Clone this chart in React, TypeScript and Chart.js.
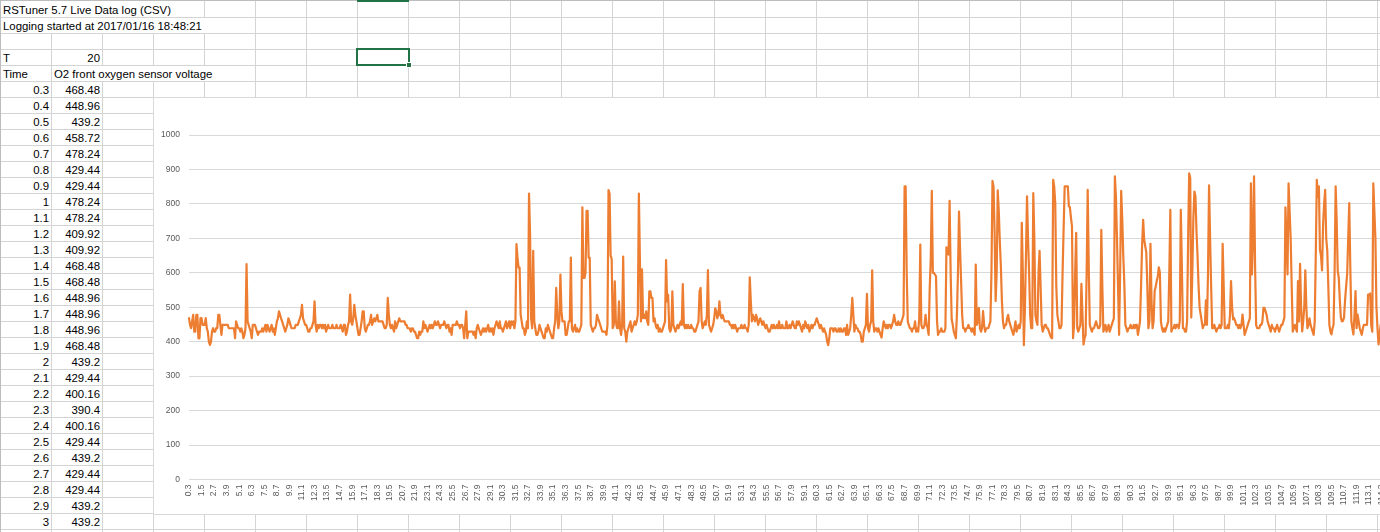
import React, { useEffect, useRef } from "react";
import { Chart, registerables } from "chart.js";

Chart.register(...registerables);

// ---- sheet texts ----
const sheetTitle = "RSTuner 5.7 Live Data log (CSV)";
const sheetSubtitle = "Logging started at 2017/01/16 18:48:21";
const periodLabel = "T";
const periodValue = "20";
const timeHeader = "Time";
const seriesName = "O2 front oxygen sensor voltage";

const tableTimes = [
  "0.3", "0.4", "0.5", "0.6", "0.7", "0.8", "0.9", "1", "1.1", "1.2", "1.3", "1.4", "1.5", "1.6",
  "1.7", "1.8", "1.9", "2", "2.1", "2.2", "2.3", "2.4", "2.5", "2.6", "2.7", "2.8", "2.9", "3",
];
const tableValues = [
  "468.48", "448.96", "439.2", "458.72", "478.24", "429.44", "429.44", "478.24", "478.24", "409.92",
  "409.92", "468.48", "468.48", "448.96", "448.96", "448.96", "468.48", "439.2", "429.44", "400.16",
  "390.4", "400.16", "429.44", "439.2", "429.44", "429.44", "439.2", "439.2",
];

// ---- chart data ----
const sampleStart = 0.3; // s
const samplePeriod = 0.1; // s
const xLabelEvery = 12;
const yMin = 0;
const yMax = 1000;
const yStep = 100;

const o2Voltage = [
  468.48, 448.96, 439.2, 458.72, 478.24, 429.44, 429.44, 478.24, 478.24, 409.92,
  409.92, 468.48, 468.48, 448.96, 448.96, 448.96, 468.48, 439.2, 429.44, 400.16,
  390.4, 400.16, 429.44, 439.2, 429.44, 429.44, 439.2, 439.2, 478, 478,
  449, 420, 449, 449, 449, 449, 449, 449, 439, 439,
  439, 439, 439, 439, 410, 459, 449, 439, 439, 429,
  439, 429, 410, 420, 439, 625, 459, 449, 439, 429,
  410, 449, 449, 449, 439, 429, 420, 429, 429, 429,
  439, 429, 439, 449, 429, 449, 439, 429, 439, 449,
  429, 439, 420, 439, 459, 468, 488, 478, 468, 459,
  449, 439, 429, 439, 449, 468, 459, 449, 439, 439,
  439, 439, 449, 449, 449, 459, 468, 478, 507, 468,
  459, 449, 449, 439, 429, 429, 439, 439, 449, 459,
  517, 449, 429, 449, 439, 449, 449, 439, 449, 439,
  449, 429, 439, 449, 439, 439, 439, 449, 439, 439,
  439, 449, 439, 439, 439, 449, 439, 429, 449, 449,
  420, 429, 449, 459, 537, 459, 449, 468, 507, 478,
  459, 439, 420, 420, 439, 459, 488, 488, 439, 429,
  439, 449, 449, 459, 478, 449, 459, 468, 459, 468,
  478, 459, 459, 459, 459, 459, 449, 439, 439, 449,
  527, 478, 449, 439, 449, 439, 429, 459, 439, 449,
  459, 468, 459, 459, 459, 459, 459, 449, 449, 439,
  439, 439, 429, 439, 439, 429, 429, 420, 410, 410,
  429, 420, 429, 429, 459, 439, 449, 439, 429, 439,
  449, 439, 449, 439, 449, 459, 449, 449, 459, 449,
  439, 449, 449, 449, 459, 449, 439, 449, 449, 429,
  439, 420, 449, 449, 449, 449, 459, 449, 449, 439,
  449, 449, 439, 410, 449, 488, 410, 429, 429, 429,
  429, 429, 420, 429, 410, 439, 449, 439, 429, 420,
  429, 439, 429, 439, 429, 439, 449, 429, 439, 429,
  439, 420, 439, 449, 459, 449, 439, 459, 439, 439,
  429, 439, 449, 459, 439, 449, 459, 439, 459, 449,
  459, 439, 459, 683, 644, 615, 615, 478, 459, 439,
  439, 420, 429, 459, 439, 830, 712, 468, 439, 664,
  459, 439, 420, 420, 429, 449, 439, 429, 420, 410,
  410, 439, 429, 449, 439, 429, 420, 410, 410, 439,
  459, 556, 478, 439, 459, 595, 488, 459, 459, 459,
  420, 420, 439, 459, 459, 644, 439, 429, 439, 449,
  429, 439, 429, 429, 439, 449, 790, 585, 585, 600,
  780, 780, 644, 644, 449, 439, 429, 439, 439, 449,
  478, 468, 459, 449, 439, 429, 429, 429, 429, 420,
  449, 840, 830, 650, 640, 439, 449, 575, 460, 440,
  439, 517, 439, 420, 449, 647, 439, 429, 400, 429,
  439, 449, 459, 429, 439, 449, 459, 449, 459, 478,
  830, 640, 459, 610, 468, 478, 468, 488, 459, 449,
  546, 546, 527, 527, 459, 468, 449, 439, 449, 429,
  439, 429, 429, 439, 449, 459, 637, 517, 536, 439,
  429, 439, 546, 449, 439, 429, 439, 449, 439, 449,
  459, 449, 567, 449, 439, 449, 439, 449, 439, 439,
  449, 439, 439, 429, 429, 439, 449, 459, 546, 556,
  459, 439, 449, 459, 449, 478, 608, 449, 439, 429,
  439, 449, 468, 497, 488, 468, 478, 517, 478, 468,
  478, 468, 459, 459, 459, 459, 459, 449, 449, 439,
  449, 439, 449, 439, 429, 439, 439, 439, 449, 439,
  439, 449, 439, 439, 429, 449, 587, 517, 459, 478,
  468, 459, 478, 468, 449, 459, 468, 459, 449, 459,
  449, 439, 449, 439, 429, 429, 439, 449, 439, 449,
  439, 439, 449, 439, 459, 439, 439, 449, 439, 439,
  439, 459, 439, 439, 449, 439, 449, 459, 449, 439,
  439, 459, 449, 459, 449, 439, 429, 449, 439, 459,
  449, 439, 449, 429, 439, 449, 439, 449, 449, 459,
  468, 459, 449, 439, 449, 439, 429, 439, 429, 420,
  400, 390, 410, 439, 439, 439, 429, 439, 439, 429,
  429, 439, 429, 439, 429, 429, 439, 439, 420, 449,
  420, 429, 439, 478, 527, 478, 429, 449, 439, 439,
  429, 429, 420, 400, 400, 429, 439, 449, 539, 439,
  429, 449, 459, 607, 459, 429, 439, 439, 429, 439,
  429, 420, 412, 439, 459, 449, 439, 449, 439, 449,
  449, 439, 449, 459, 478, 459, 449, 449, 459, 449,
  449, 459, 468, 478, 851, 851, 600, 459, 449, 439,
  439, 429, 439, 439, 459, 429, 439, 429, 468, 682,
  449, 439, 439, 449, 478, 449, 439, 420, 556, 640,
  838, 600, 600, 595, 590, 459, 420, 429, 429, 439,
  429, 429, 429, 439, 674, 660, 653, 809, 600, 465,
  449, 429, 420, 410, 478, 600, 778, 670, 576, 478,
  439, 439, 429, 439, 439, 449, 439, 439, 429, 439,
  429, 420, 624, 449, 459, 498, 439, 429, 439, 489,
  449, 429, 439, 439, 439, 449, 459, 600, 867, 850,
  720, 518, 600, 839, 780, 691, 620, 518, 459, 439,
  449, 449, 468, 478, 459, 449, 439, 429, 420, 439,
  459, 429, 439, 449, 439, 459, 745, 600, 390, 498,
  650, 822, 696, 600, 478, 439, 439, 831, 700, 479,
  459, 449, 600, 664, 560, 449, 429, 439, 449, 449,
  439, 439, 429, 420, 412, 410, 870, 850, 800, 560,
  478, 459, 439, 439, 449, 600, 730, 851, 851, 851,
  851, 793, 790, 760, 735, 410, 450, 600, 716, 439,
  429, 439, 449, 568, 478, 392, 410, 420, 600, 841,
  620, 449, 439, 429, 439, 439, 449, 459, 449, 439,
  439, 449, 725, 560, 429, 439, 449, 429, 439, 449,
  429, 439, 449, 459, 468, 880, 820, 700, 560, 420,
  600, 838, 760, 650, 570, 449, 439, 429, 439, 439,
  449, 439, 439, 449, 439, 449, 449, 420, 439, 459,
  560, 680, 754, 696, 677, 660, 560, 439, 459, 684,
  520, 439, 459, 547, 560, 576, 590, 616, 600, 459,
  439, 429, 439, 429, 439, 449, 459, 600, 783, 429,
  439, 439, 449, 439, 449, 449, 439, 459, 783, 620,
  439, 439, 429, 429, 459, 700, 889, 875, 470, 600,
  760, 836, 822, 720, 648, 560, 498, 479, 459, 439,
  449, 449, 520, 449, 600, 854, 700, 560, 439, 439,
  449, 439, 429, 439, 439, 449, 439, 449, 684, 560,
  439, 439, 439, 449, 439, 478, 576, 500, 465, 468,
  459, 449, 449, 439, 449, 439, 449, 479, 449, 420,
  429, 439, 449, 459, 468, 860, 595, 700, 880, 620,
  449, 439, 439, 439, 449, 449, 459, 498, 498, 488,
  478, 459, 449, 439, 429, 449, 439, 439, 429, 439,
  449, 439, 429, 439, 449, 449, 459, 470, 790, 700,
  595, 860, 780, 700, 560, 429, 439, 449, 439, 429,
  576, 459, 626, 500, 430, 459, 500, 607, 500, 439,
  449, 468, 449, 439, 429, 420, 459, 650, 870, 820,
  851, 667, 650, 607, 740, 800, 841, 700, 664, 560,
  449, 429, 421, 439, 449, 600, 851, 750, 605, 585,
  520, 470, 459, 460, 470, 520, 560, 597, 700, 802,
  620, 460, 439, 421, 478, 547, 439, 479, 459, 439,
  429, 420, 439, 449, 449, 449, 449, 537, 537, 540,
  449, 429, 860, 780, 700, 500, 439, 392, 420, 449,
  439, 429, 439, 449, 439, 429, 439, 449,
];

// Time column of the log: one sample every 0.1 s starting at 0.3 s
const timeLabels = o2Voltage.map((_, i) =>
  String(parseFloat((sampleStart + i * samplePeriod).toFixed(1)))
);

// ---- styling ----
const FONT = "'Liberation Sans', Arial, sans-serif";
const GRID = "#d4d4d4";
const ROW_H = 16;
const COL_W = 51;
const N_ROWS = 34;
const N_COLS = 27;

const rowIdx = Array.from({ length: N_ROWS }, (_, k) => k);
const colIdx = Array.from({ length: N_COLS }, (_, k) => k);

function Cell(props: {
  row: number;
  left: number;
  width: number;
  align?: "left" | "right";
  text: string;
}) {
  const { row, left, width, align = "left", text } = props;
  return (
    <div
      style={{
        position: "absolute",
        left,
        top: ROW_H * row + 1.5,
        width,
        height: ROW_H,
        lineHeight: ROW_H + "px",
        textAlign: align,
        whiteSpace: "nowrap",
        overflow: "visible",
        paddingLeft: align === "left" ? 2 : 0,
        paddingRight: align === "right" ? 2 : 0,
        boxSizing: "border-box",
      }}
    >
      {text}
    </div>
  );
}

export default function App() {
  const canvasRef = useRef<HTMLCanvasElement | null>(null);

  useEffect(() => {
    const canvas = canvasRef.current;
    if (!canvas) return;
    const tickFont = { family: FONT, size: 8.5 };
    const chart = new Chart(canvas, {
      type: "line",
      data: {
        labels: timeLabels,
        datasets: [
          {
            label: seriesName,
            data: o2Voltage,
            borderColor: "#ED7D31",
            backgroundColor: "#ED7D31",
            borderWidth: 2.2,
            pointRadius: 0,
            pointHoverRadius: 0,
            tension: 0,
            fill: false,
            borderJoinStyle: "round",
            borderCapStyle: "round",
          },
        ],
      },
      options: {
        animation: false,
        responsive: true,
        maintainAspectRatio: false,
        events: [],
        layout: { padding: { top: 37, bottom: 0.5, left: 0, right: 12 } },
        plugins: {
          legend: { display: false },
          title: { display: false },
          tooltip: { enabled: false },
        },
        scales: {
          x: {
            type: "category",
            grid: { display: false, drawTicks: false },
            border: { display: false },
            ticks: {
              autoSkip: false,
              minRotation: 90,
              maxRotation: 90,
              padding: 5,
              color: "#595959",
              font: tickFont,
            },
            afterBuildTicks: (scale: any) => {
              scale.ticks = scale.ticks.filter(
                (t: any) => t.value % xLabelEvery === 0
              );
            },
            afterFit: (scale: any) => {
              scale.height = 34;
            },
          },
          y: {
            min: yMin,
            max: yMax,
            ticks: {
              stepSize: yStep,
              padding: 9,
              color: "#595959",
              font: tickFont,
              callback: (value: any) => String(value),
            },
            grid: { color: "#d9d9d9", lineWidth: 1, drawTicks: false },
            border: { display: false },
            afterFit: (scale: any) => {
              scale.width = 35;
            },
          },
        },
      },
    } as any);
    return () => chart.destroy();
  }, []);

  return (
    <div
      style={{
        position: "absolute",
        left: 0,
        top: 0,
        width: 1380,
        height: 532,
        overflow: "hidden",
        background: "#ffffff",
        fontFamily: FONT,
        fontSize: 11.4,
        color: "#000000",
      }}
    >
      {/* horizontal grid lines */}
      {rowIdx.map((k) => (
        <div
          key={"h" + k}
          style={{
            position: "absolute",
            left: 0,
            top: ROW_H * (k + 1) + 1,
            width: 1380,
            height: 1,
            background: GRID,
          }}
        />
      ))}
      {/* vertical grid lines */}
      {colIdx.map((k) => (
        <div
          key={"v" + k}
          style={{
            position: "absolute",
            left: COL_W * (k + 1),
            top: 0,
            width: 1,
            height: 532,
            background: GRID,
          }}
        />
      ))}
      {/* header borders */}
      <div style={{ position: "absolute", left: 0, top: 0, width: 1380, height: 1, background: "#bdbdbd" }} />
      <div style={{ position: "absolute", left: 0, top: 0, width: 1, height: 532, background: "#bdbdbd" }} />
      <div style={{ position: "absolute", left: 357, top: 0, width: 52, height: 2, background: "#217346" }} />

      {/* overflowing text hides the grid lines under it */}
      <div style={{ position: "absolute", left: 1, top: 1, width: 202, height: 16, background: "#fff" }} />
      <div style={{ position: "absolute", left: 1, top: 18, width: 253, height: 15, background: "#fff" }} />
      <div style={{ position: "absolute", left: 52, top: 66, width: 202, height: 15, background: "#fff" }} />

      <Cell row={0} left={1} width={50} text={sheetTitle} />
      <Cell row={1} left={1} width={50} text={sheetSubtitle} />
      <Cell row={3} left={1} width={50} text={periodLabel} />
      <Cell row={3} left={52} width={50} align="right" text={periodValue} />
      <Cell row={4} left={1} width={50} text={timeHeader} />
      <Cell row={4} left={52} width={50} text={seriesName} />
      {tableTimes.map((t, i) => (
        <Cell key={"t" + i} row={5 + i} left={1} width={50} align="right" text={t} />
      ))}
      {tableValues.map((v, i) => (
        <Cell key={"v" + i} row={5 + i} left={52} width={50} align="right" text={v} />
      ))}

      {/* selected cell H4 */}
      <div
        style={{
          position: "absolute",
          left: 356,
          top: 48,
          width: 54,
          height: 18,
          boxSizing: "border-box",
          border: "2px solid #217346",
        }}
      />
      <div
        style={{
          position: "absolute",
          left: 406,
          top: 62,
          width: 6,
          height: 6,
          boxSizing: "border-box",
          background: "#217346",
          border: "1px solid #ffffff",
        }}
      />

      {/* chart object */}
      <div
        style={{
          position: "absolute",
          left: 153,
          top: 97,
          width: 1300,
          height: 418,
          boxSizing: "border-box",
          border: "1px solid #d9d9d9",
          background: "#ffffff",
        }}
      >
        <div style={{ position: "absolute", left: 0, top: 0, width: 1247, height: 416 }}>
          <canvas ref={canvasRef} />
        </div>
      </div>
    </div>
  );
}
